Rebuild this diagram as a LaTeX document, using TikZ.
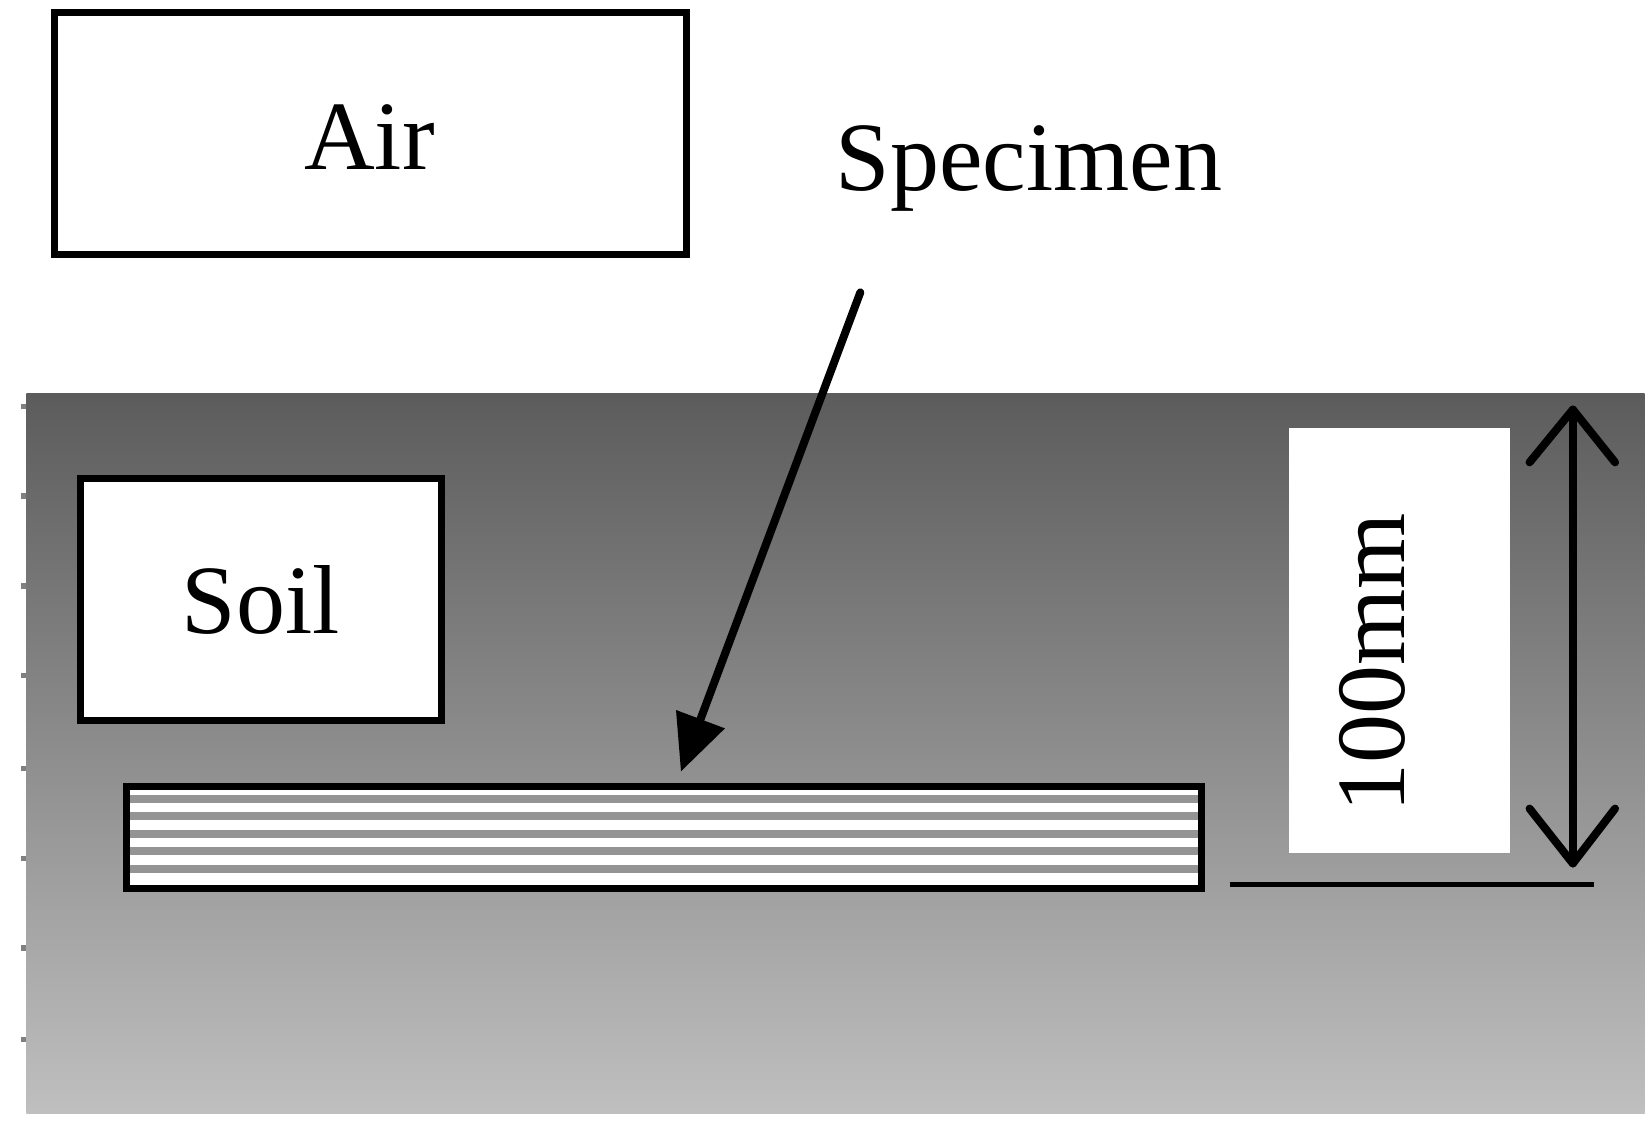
\documentclass[tikz,border=0pt]{standalone}
\usepackage{fontspec}
\setmainfont{Liberation Serif}
\usetikzlibrary{arrows.meta}
\begin{document}
\begin{tikzpicture}[x=1.0555pt,y=-1.0555pt,
  box/.style={draw=black,line width=7pt,fill=white},
  big/.style={font=\fontsize{98}{104}\selectfont}]
\useasboundingbox (0,0) rectangle (1565,1075);
% soil background
\shade[top color=black!64,bottom color=black!25] (25,373) rectangle (1558,1055);
\foreach \y in {385,470,555,640,728,813,898,985}
  \fill[black!50] (20,\y-2.5) rectangle (25,\y+2.5);
% air
\draw[box] (52,12) rectangle (650,241);
\node[big] (air) at (350,130) {Air};
% soil
\draw[box] (76,453) rectangle (418,683);
\node[big] (soil) at (247,568) {Soil};
% specimen
\fill[white] (120,745) rectangle (1138,842);
\foreach \y in {757,773,790,806,823}
  \fill[black!42] (120,\y-4) rectangle (1138,\y+4);
\draw[line width=7pt] (120,745) rectangle (1138,842);
\node[big] (spec) at (975,160) {Specimen};
\coordinate (a0) at (815,277);
\coordinate (a1) at (645,731);
\draw[line width=8pt,line cap=round,-{Triangle[length=56pt,width=50pt]}] (a0) -- (a1);
% dimension
\fill[white] (1221,405) rectangle (1430,808);
\node[big,rotate=90] (dim) at (1300,628) {100mm};
\coordinate (t) at (1490,388);
\coordinate (b) at (1490,818);
\draw[line width=8pt,line cap=round,line join=round] (t) -- (b);
\draw[line width=8pt,line cap=round,line join=round] (1449,438) -- (t) -- (1530,438);
\draw[line width=8pt,line cap=round,line join=round] (1449,766) -- (b) -- (1530,766);
\coordinate (h0) at (1165,838);
\coordinate (h1) at (1510,838);
\draw[line width=5pt] (h0) -- (h1);
\end{tikzpicture}
\end{document}
